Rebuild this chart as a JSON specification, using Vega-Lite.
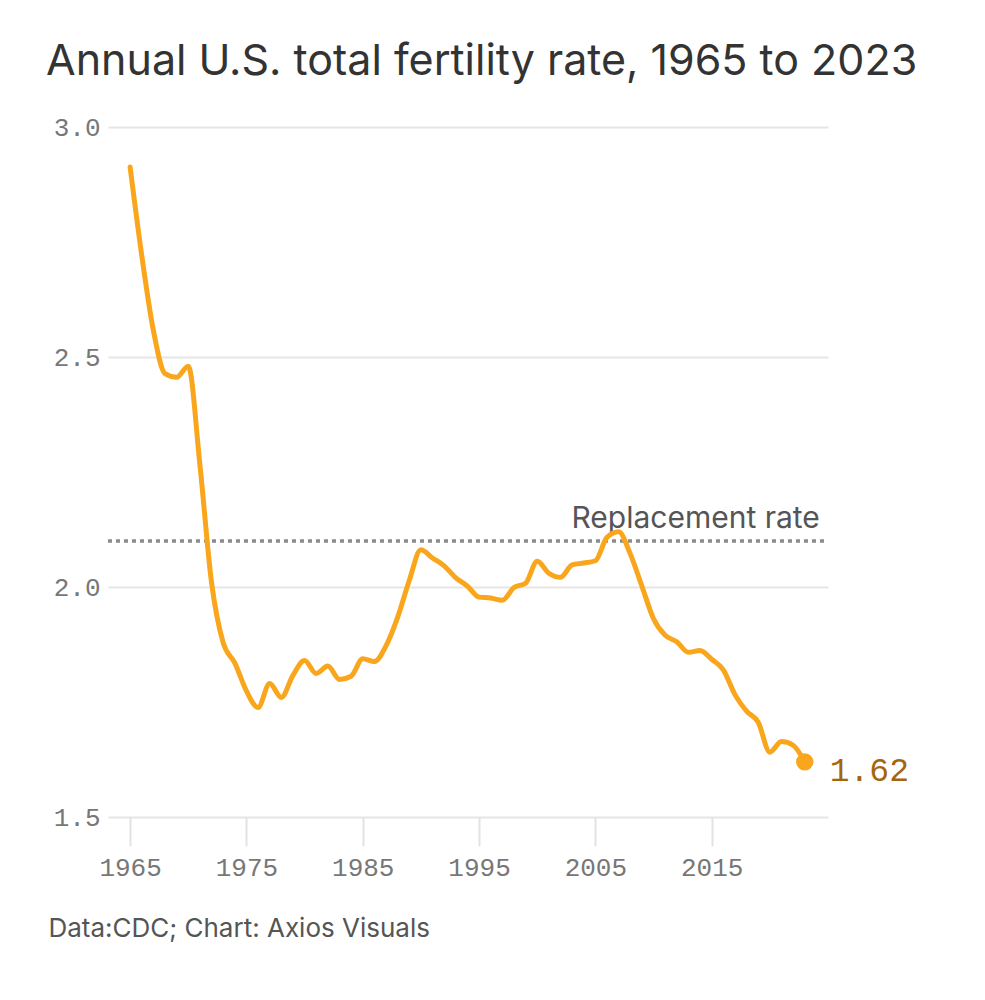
{
  "$schema": "https://vega.github.io/schema/vega-lite/v6.json",
  "width": 720,
  "height": 690,
  "autosize": {"type": "none"},
  "padding": {"left": 108, "top": 127, "right": 157, "bottom": 183},
  "background": "white",
  "title": {
    "text": "Annual U.S. total fertility rate, 1965 to 2023",
    "anchor": "start",
    "dx": -2,
    "offset": 30,
    "font": "Inter",
    "fontSize": 43,
    "fontWeight": "normal",
    "color": "#333333"
  },
  "config": {
    "view": {"stroke": null},
    "axis": {"domain": false}
  },
  "datasets": {
    "tfr": [
      {"year": 1965, "rate": 2.913}, {"year": 1966, "rate": 2.721}, {"year": 1967, "rate": 2.558},
      {"year": 1968, "rate": 2.464}, {"year": 1969, "rate": 2.456}, {"year": 1970, "rate": 2.480},
      {"year": 1971, "rate": 2.266}, {"year": 1972, "rate": 2.010}, {"year": 1973, "rate": 1.879},
      {"year": 1974, "rate": 1.835}, {"year": 1975, "rate": 1.774}, {"year": 1976, "rate": 1.738},
      {"year": 1977, "rate": 1.790}, {"year": 1978, "rate": 1.760}, {"year": 1979, "rate": 1.808},
      {"year": 1980, "rate": 1.840}, {"year": 1981, "rate": 1.812}, {"year": 1982, "rate": 1.828},
      {"year": 1983, "rate": 1.799}, {"year": 1984, "rate": 1.806}, {"year": 1985, "rate": 1.844},
      {"year": 1986, "rate": 1.838}, {"year": 1987, "rate": 1.872}, {"year": 1988, "rate": 1.934},
      {"year": 1989, "rate": 2.014}, {"year": 1990, "rate": 2.081}, {"year": 1991, "rate": 2.063},
      {"year": 1992, "rate": 2.046}, {"year": 1993, "rate": 2.020}, {"year": 1994, "rate": 2.002},
      {"year": 1995, "rate": 1.978}, {"year": 1996, "rate": 1.976}, {"year": 1997, "rate": 1.971},
      {"year": 1998, "rate": 1.999}, {"year": 1999, "rate": 2.008}, {"year": 2000, "rate": 2.056},
      {"year": 2001, "rate": 2.030}, {"year": 2002, "rate": 2.021}, {"year": 2003, "rate": 2.048},
      {"year": 2004, "rate": 2.052}, {"year": 2005, "rate": 2.057}, {"year": 2006, "rate": 2.108},
      {"year": 2007, "rate": 2.120}, {"year": 2008, "rate": 2.072}, {"year": 2009, "rate": 2.002},
      {"year": 2010, "rate": 1.931}, {"year": 2011, "rate": 1.895}, {"year": 2012, "rate": 1.881},
      {"year": 2013, "rate": 1.858}, {"year": 2014, "rate": 1.862}, {"year": 2015, "rate": 1.843},
      {"year": 2016, "rate": 1.820}, {"year": 2017, "rate": 1.766}, {"year": 2018, "rate": 1.730},
      {"year": 2019, "rate": 1.706}, {"year": 2020, "rate": 1.641}, {"year": 2021, "rate": 1.664},
      {"year": 2022, "rate": 1.656}, {"year": 2023, "rate": 1.620}
    ],
    "last": [{"year": 2023, "rate": 1.62, "label": "1.62"}],
    "replacement": [{"year": 2024.3, "rate": 2.1, "label": "Replacement rate"}]
  },
  "encoding": {
    "x": {
      "field": "year",
      "type": "quantitative",
      "scale": {"domain": [1963.1, 2025], "nice": false, "zero": false},
      "axis": {
        "values": [1965, 1975, 1985, 1995, 2005, 2015],
        "format": "d",
        "grid": false,
        "ticks": true,
        "tickSize": 29,
        "tickWidth": 2,
        "tickColor": "#e2e2e2",
        "labelFont": "Liberation Mono",
        "labelFontSize": 26,
        "labelColor": "#777777",
        "labelPadding": 8,
        "title": "Data:CDC; Chart: Axios Visuals",
        "titleFont": "Inter",
        "titleFontSize": 26,
        "titleFontWeight": "normal",
        "titleColor": "#555555",
        "titleAnchor": "start",
        "titleAlign": "left",
        "titleBaseline": "middle",
        "titleX": -60,
        "titleY": 111
      }
    },
    "y": {
      "field": "rate",
      "type": "quantitative",
      "scale": {"domain": [1.5, 3.0], "nice": false, "zero": false},
      "axis": {
        "values": [1.5, 2.0, 2.5, 3.0],
        "format": ".1f",
        "grid": true,
        "gridColor": "#e6e6e6",
        "gridWidth": 2,
        "ticks": false,
        "labelFont": "Liberation Mono",
        "labelFontSize": 26,
        "labelColor": "#777777",
        "labelPadding": 8,
        "title": null
      }
    }
  },
  "layer": [
    {
      "data": {"name": "replacement"},
      "mark": {"type": "rule", "strokeDash": [4, 4], "strokeWidth": 3.5, "color": "#8c8c8c"},
      "encoding": {
        "x": {"datum": 1963.1, "type": "quantitative"},
        "x2": {"datum": 2025},
        "y": {"field": "rate", "type": "quantitative"}
      }
    },
    {
      "data": {"name": "replacement"},
      "mark": {"type": "text", "align": "right", "baseline": "alphabetic", "dy": -13, "font": "Inter", "fontSize": 30, "color": "#555555"},
      "encoding": {
        "text": {"field": "label"}
      }
    },
    {
      "data": {"name": "tfr"},
      "mark": {"type": "line", "interpolate": "monotone", "strokeWidth": 5, "color": "#F9A61C", "strokeCap": "round"}
    },
    {
      "data": {"name": "last"},
      "mark": {"type": "point", "filled": true, "size": 300, "opacity": 1, "color": "#F9A61C"}
    },
    {
      "data": {"name": "last"},
      "mark": {"type": "text", "align": "left", "baseline": "middle", "dx": 25, "dy": 9, "font": "Liberation Mono", "fontSize": 33, "color": "#A5650E"},
      "encoding": {
        "text": {"field": "label"}
      }
    }
  ]
}
